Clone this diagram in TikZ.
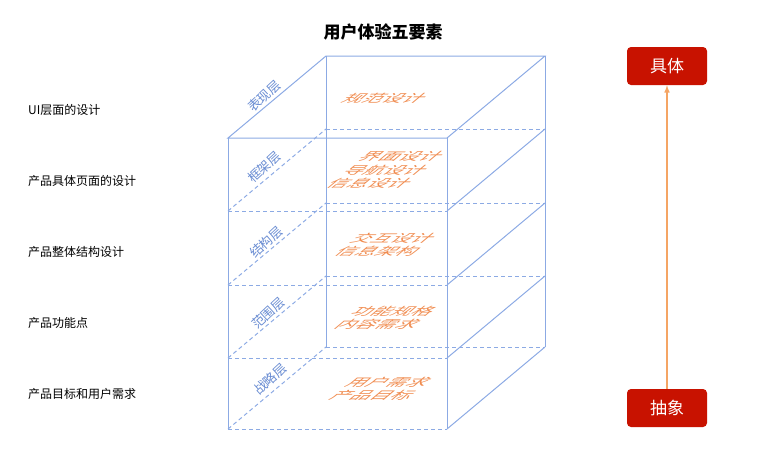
\documentclass[tikz,border=0pt]{standalone}
\usepackage{fontspec}
\setmainfont{Noto Sans CJK SC}

\definecolor{edgeblue}{RGB}{140,170,228}
\definecolor{labelblue}{RGB}{105,140,210}
\definecolor{planorange}{RGB}{240,140,80}
\definecolor{boxred}{RGB}{200,18,0}
\definecolor{arroworange}{RGB}{245,165,100}

\begin{document}
\begin{tikzpicture}[x=1pt, y=-1pt, >=latex,
  edge/.style={draw=edgeblue, line width=1pt},
  hidden/.style={edge, dash pattern=on 4pt off 3pt},
  post/.style={draw=edgeblue, line width=0.5pt},
  plane/.style={text=planorange, xslant=1.2, yscale=0.55, align=center, inner sep=0pt, font=\fontsize{20}{24}\selectfont},
  layer/.style={text=labelblue, rotate=43, inner sep=0pt, font=\fontsize{13}{15}\selectfont},
  aspect/.style={anchor=west, inner sep=0pt, font=\fontsize{12}{14}\selectfont},
  pole/.style={fill=boxred, text=white, rounded corners=4pt, minimum width=80pt, minimum height=38pt, font=\fontsize{17}{20}\selectfont}]

\useasboundingbox (0, 0) rectangle (777, 448);

\node (title) at (383, 32) [font=\fontsize{17}{20}\selectfont\bfseries] {用户体验五要素};

% corners of the box
\coordinate (fl1) at (228, 138); \coordinate (fr1) at (447, 138);
\coordinate (fl2) at (228, 211); \coordinate (fr2) at (447, 211);
\coordinate (fl3) at (228, 285); \coordinate (fr3) at (447, 285);
\coordinate (fl4) at (228, 358); \coordinate (fr4) at (447, 358);
\coordinate (fl5) at (228, 429); \coordinate (fr5) at (447, 429);

\coordinate (bl1) at (326, 56);  \coordinate (br1) at (545, 56);
\coordinate (bl2) at (326, 129); \coordinate (br2) at (545, 129);
\coordinate (bl3) at (326, 203); \coordinate (br3) at (545, 203);
\coordinate (bl4) at (326, 276); \coordinate (br4) at (545, 276);
\coordinate (bl5) at (326, 347); \coordinate (br5) at (545, 347);

\draw[post] (fl1) -- (fl5);
\draw[post] (fr1) -- (fr5);
\draw[post] (bl1) -- (bl5);
\draw[post] (br1) -- (br5);

\draw[edge] (fl1) -- (fr1) -- (br1) -- (bl1) -- cycle;

\draw[hidden] (fl2) -- (fr2);
\draw[hidden] (bl2) -- (br2);
\draw[hidden] (fl2) -- (bl2);
\draw[edge]   (fr2) -- (br2);

\draw[hidden] (fl3) -- (fr3);
\draw[hidden] (bl3) -- (br3);
\draw[hidden] (fl3) -- (bl3);
\draw[edge]   (fr3) -- (br3);

\draw[hidden] (fl4) -- (fr4);
\draw[hidden] (bl4) -- (br4);
\draw[hidden] (fl4) -- (bl4);
\draw[edge]   (fr4) -- (br4);

\draw[hidden] (fl5) -- (fr5);
\draw[hidden] (bl5) -- (br5);
\draw[hidden] (fl5) -- (bl5);
\draw[edge]   (fr5) -- (br5);

% layer names
\node (layer1) at (264, 96)  [layer] {表现层};
\node (layer2) at (264, 167) [layer] {框架层};
\node (layer3) at (266, 242) [layer] {结构层};
\node (layer4) at (268, 313) [layer] {范围层};
\node (layer5) at (270, 379) [layer] {战略层};

% contents
\node (plane1) at (385, 98)  [plane] {规范设计};
\node (plane2) at (386, 170) [plane] {界面设计\\导航设计\\信息设计};
\node (plane3) at (386, 245) [plane] {交互设计\\信息架构};
\node (plane4) at (386, 318) [plane] {功能规格\\内容需求};
\node (plane5) at (381, 389) [plane] {用户需求\\产品目标};

% meaning of each layer
\node (aspect1) at (28, 110) [aspect] {UI层面的设计};
\node (aspect2) at (28, 181) [aspect] {产品具体页面的设计};
\node (aspect3) at (28, 252) [aspect] {产品整体结构设计};
\node (aspect4) at (28, 323) [aspect] {产品功能点};
\node (aspect5) at (28, 394) [aspect] {产品目标和用户需求};

\node (concrete) at (667, 66)  [pole] {具体};
\node (abstract) at (667, 408) [pole] {抽象};

\draw[->, draw=arroworange, line width=1.5pt] (abstract.north) -- (concrete.south);

\end{tikzpicture}
\end{document}
